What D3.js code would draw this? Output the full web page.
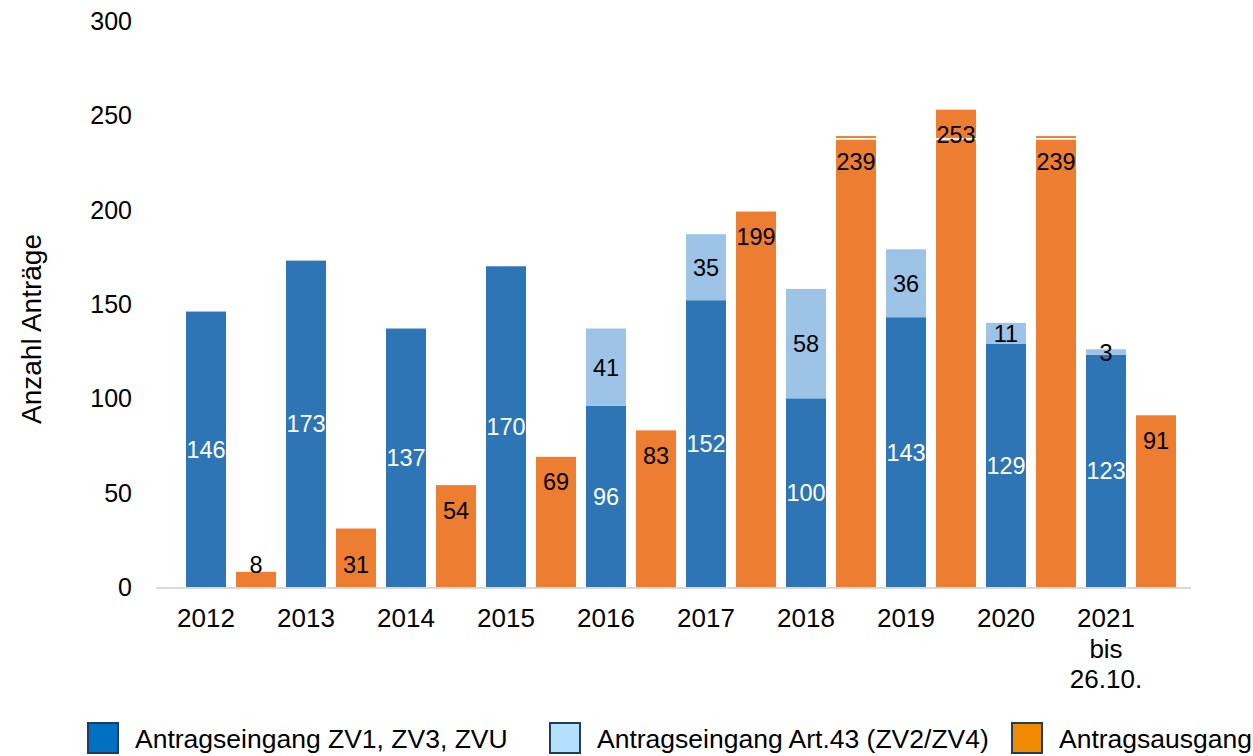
<!DOCTYPE html>
<html>
<head>
<meta charset="utf-8">
<script src="https://cdn.jsdelivr.net/npm/d3@7"></script>
<style>
  body { margin: 0; background: #fff; }
  text { font-family: "Liberation Sans", Arial, sans-serif; fill: #000; }
</style>
</head>
<body>
<div id="chart"></div>
<script>
// Data
var years = ["2012", "2013", "2014", "2015", "2016", "2017", "2018", "2019", "2020", "2021"];
var yearLabels = [["2012"], ["2013"], ["2014"], ["2015"], ["2016"], ["2017"], ["2018"], ["2019"], ["2020"], ["2021", "bis", "26.10."]];
var eingangZV = [146, 173, 137, 170, 96, 152, 100, 143, 129, 123];
var eingangArt43 = [0, 0, 0, 0, 41, 35, 58, 36, 11, 3];
var ausgang = [8, 31, 54, 69, 83, 199, 239, 253, 239, 91];
var yTicks = [0, 50, 100, 150, 200, 250, 300];
var seriesNames = ["Antragseingang ZV1, ZV3, ZVU", "Antragseingang Art.43 (ZV2/ZV4)", "Antragsausgang"];

var svgWidth = 1253;
var svgHeight = 756;

var colors = { zv: "#2e75b6", art: "#9dc3e6", out: "#ed7d31" };
var legendColors = ["#0070c0", "#b4e0ff", "#f08a00"];

var svg = d3.select("#chart")
  .append("svg")
  .attr("width", svgWidth)
  .attr("height", svgHeight);

// Scales
var x = d3.scaleBand()
  .domain(years)
  .range([181, 1181]);

var xInner = d3.scaleBand()
  .domain(["in", "out"])
  .range([0, x.bandwidth()])
  .paddingInner(0.2)
  .paddingOuter(0.1);

var y = d3.scaleLinear()
  .domain([0, 300])
  .range([587, 21]);

// Y tick labels (no axis line, no gridlines)
svg.append("g")
  .selectAll("text")
  .data(yTicks)
  .enter()
  .append("text")
  .attr("x", 132)
  .attr("y", d => y(d))
  .attr("dy", "0.36em")
  .attr("text-anchor", "end")
  .style("font-size", "25px")
  .text(d => d);

// Y title
svg.append("text")
  .attr("transform", "translate(41, 329) rotate(-90)")
  .attr("text-anchor", "middle")
  .style("font-size", "28px")
  .text("Anzahl Anträge");

var rows = years.map((yr, i) => ({
  year: yr, zv: eingangZV[i], art: eingangArt43[i], out: ausgang[i], label: yearLabels[i]
}));

var groups = svg.append("g")
  .selectAll("g")
  .data(rows)
  .enter()
  .append("g")
  .attr("transform", d => `translate(${x(d.year)}, 0)`);

// Stacked incoming bars
groups.append("rect")
  .attr("x", xInner("in"))
  .attr("width", xInner.bandwidth())
  .attr("y", d => y(d.zv))
  .attr("height", d => y(0) - y(d.zv))
  .attr("fill", colors.zv);

groups.filter(d => d.art > 0)
  .append("rect")
  .attr("x", xInner("in"))
  .attr("width", xInner.bandwidth())
  .attr("y", d => y(d.zv + d.art))
  .attr("height", d => y(d.zv) - y(d.zv + d.art))
  .attr("fill", colors.art);

// Outgoing bars
groups.append("rect")
  .attr("x", xInner("out"))
  .attr("width", xInner.bandwidth())
  .attr("y", d => y(d.out))
  .attr("height", d => y(0) - y(d.out))
  .attr("fill", colors.out);

// thin white break seen on the tallest orange bars
groups.filter(d => d.out > 237.5)
  .append("line")
  .attr("x1", xInner("out"))
  .attr("x2", xInner("out") + xInner.bandwidth())
  .attr("y1", y(237.5))
  .attr("y2", y(237.5))
  .attr("stroke", "#fff")
  .attr("stroke-width", 1.6);

// Value labels
var labelSize = "23.5px";
groups.append("text")
  .attr("x", xInner("in") + xInner.bandwidth() / 2)
  .attr("y", d => (y(0) + y(d.zv)) / 2)
  .attr("dy", "0.36em")
  .attr("text-anchor", "middle")
  .style("font-size", labelSize)
  .style("fill", "#fff")
  .text(d => d.zv);

groups.filter(d => d.art > 0)
  .append("text")
  .attr("x", xInner("in") + xInner.bandwidth() / 2)
  .attr("y", d => (y(d.zv) + y(d.zv + d.art)) / 2)
  .attr("dy", "0.36em")
  .attr("text-anchor", "middle")
  .style("font-size", labelSize)
  .text(d => d.art);

groups.append("text")
  .attr("x", xInner("out") + xInner.bandwidth() / 2)
  .attr("y", d => {
    var h = y(0) - y(d.out);
    return h < 60 ? y(0) - 22 : y(d.out) + 25;
  })
  .attr("dy", "0.36em")
  .attr("text-anchor", "middle")
  .style("font-size", labelSize)
  .text(d => d.out);

// X axis line
svg.append("line")
  .attr("x1", 156)
  .attr("x2", 1191)
  .attr("y1", y(0) + 1)
  .attr("y2", y(0) + 1)
  .attr("stroke", "#d9d9d9")
  .attr("stroke-width", 2);

// Year labels under the incoming bar of each year
groups.each(function (d) {
  var t = d3.select(this).append("text")
    .attr("text-anchor", "middle")
    .style("font-size", "26px");
  d.label.forEach((line, i) => {
    t.append("tspan")
      .attr("x", xInner("in") + xInner.bandwidth() / 2)
      .attr("y", 627 + i * 30.5)
      .text(line);
  });
});

// Legend
var legendX = [87, 549, 1011];
var legend = svg.append("g")
  .selectAll("g")
  .data(seriesNames)
  .enter()
  .append("g")
  .attr("transform", (d, i) => `translate(${legendX[i]}, 722)`);

legend.append("rect")
  .attr("x", 1)
  .attr("y", 1)
  .attr("width", 30)
  .attr("height", 30)
  .attr("fill", (d, i) => legendColors[i])
  .attr("stroke", "#1f3d5c")
  .attr("stroke-width", 2);

legend.append("text")
  .attr("x", 48)
  .attr("y", 26)
  .style("font-size", "26.5px")
  .text(d => d);
</script>
</body>
</html>
